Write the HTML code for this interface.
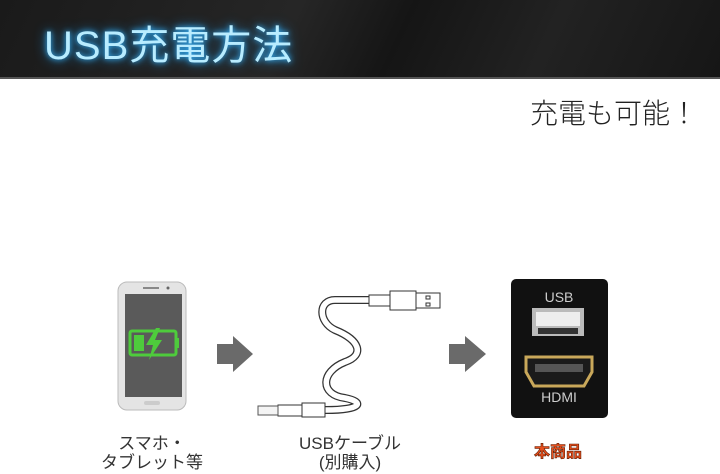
<!DOCTYPE html>
<html><head><meta charset="utf-8"><style>
body{margin:0;width:720px;height:474px;background:#fff;position:relative;overflow:hidden;font-family:"Liberation Sans","Noto Sans CJK JP",sans-serif}
.hdr{position:absolute;left:0;top:0;width:720px;height:77px;background:linear-gradient(115deg,#1a1a1a 0%,#262626 40%,#151515 55%,#222 75%,#161616 100%);border-bottom:2px solid #555}
.t{position:absolute;left:44px;top:13px;font-size:40px;color:#b8ecff;text-shadow:0 0 6px #3ab8ff,0 0 12px #1a8fdf;letter-spacing:1px}
.s{position:absolute;left:530px;top:92px;font-size:28px;color:#222;font-weight:300}
.l{position:absolute;font-size:17px;color:#333;text-align:center;line-height:19px}
</style></head><body>
<div class="hdr"><div class="t">USB充電方法</div></div>
<div class="s">充電も可能！</div>
<svg width="720" height="474" style="position:absolute;left:0;top:0">
<rect x="118" y="282" width="68" height="128" rx="9" fill="#e4e4e4" stroke="#bbb"/>
<rect x="125" y="294" width="57" height="103" fill="#5a5a5a"/>
<rect x="143" y="287" width="16" height="2" fill="#888"/><circle cx="168" cy="288" r="1.5" fill="#666"/>
<rect x="144" y="401" width="16" height="4" rx="2" fill="#ccc"/>
<rect x="130" y="331" width="46" height="24" rx="2" fill="none" stroke="#4ecb3c" stroke-width="3"/>
<rect x="176" y="338" width="3" height="10" fill="#4ecb3c"/>
<rect x="134" y="335" width="10" height="16" fill="#4ecb3c"/>
<polygon points="156,328 146,345 153,345 149,360 162,340 155,340 160,328" fill="#4ecb3c"/>
<polygon points="217,344 233,344 233,336 253,354 233,372 233,364 217,364" fill="#6a6a6a"/>
<polygon points="449,344 465,344 465,336 486,354 465,372 465,364 449,364" fill="#6a6a6a"/>
<path d="M369,300 H335 C318,300 318,322 335,330 C360,340 365,355 345,362 C320,372 320,395 345,398 C365,402 362,410 326,410 H300" fill="none" stroke="#333" stroke-width="8" stroke-linecap="round"/>
<path d="M369,300 H335 C318,300 318,322 335,330 C360,340 365,355 345,362 C320,372 320,395 345,398 C365,402 362,410 326,410 H300" fill="none" stroke="#fff" stroke-width="5.5" stroke-linecap="round"/>
<rect x="369" y="295" width="21" height="11" fill="#fff" stroke="#333"/>
<rect x="390" y="291" width="26" height="19" fill="#fff" stroke="#333"/>
<rect x="416" y="293" width="24" height="15" fill="#fff" stroke="#333"/>
<rect x="426" y="296" width="4" height="3" fill="none" stroke="#333"/><rect x="426" y="303" width="4" height="3" fill="none" stroke="#333"/>
<rect x="302" y="403" width="23" height="14" fill="#fff" stroke="#333"/>
<rect x="278" y="405" width="24" height="11" fill="#fff" stroke="#333"/>
<rect x="258" y="406" width="20" height="9" fill="#f4f4f4" stroke="#555"/>
<rect x="511" y="279" width="97" height="139" rx="5" fill="#111"/>
<text x="559" y="302" font-size="14" fill="#ccc" text-anchor="middle" font-family="Liberation Sans">USB</text>
<rect x="532" y="308" width="52" height="28" fill="#bbb"/><rect x="536" y="312" width="44" height="14" fill="#eee"/>
<rect x="538" y="328" width="40" height="6" fill="#333"/>
<path d="M526,357 H592 V372 L584,386 H534 L526,372 Z" fill="#1a1a1a" stroke="#c9a85a" stroke-width="3"/>
<rect x="535" y="364" width="48" height="8" fill="#555"/>
<text x="559" y="402" font-size="14" fill="#ccc" text-anchor="middle" font-family="Liberation Sans">HDMI</text>
</svg>
<div class="l" style="left:92px;top:434px;width:120px">スマホ・<br>タブレット等</div>
<div class="l" style="left:290px;top:434px;width:120px">USBケーブル<br>(別購入)</div>
<div class="l" style="left:520px;top:443px;width:76px;font-weight:bold;color:#e8501e;-webkit-text-stroke:0.6px #5a1a00;font-size:16px">本商品</div>
</body></html>
